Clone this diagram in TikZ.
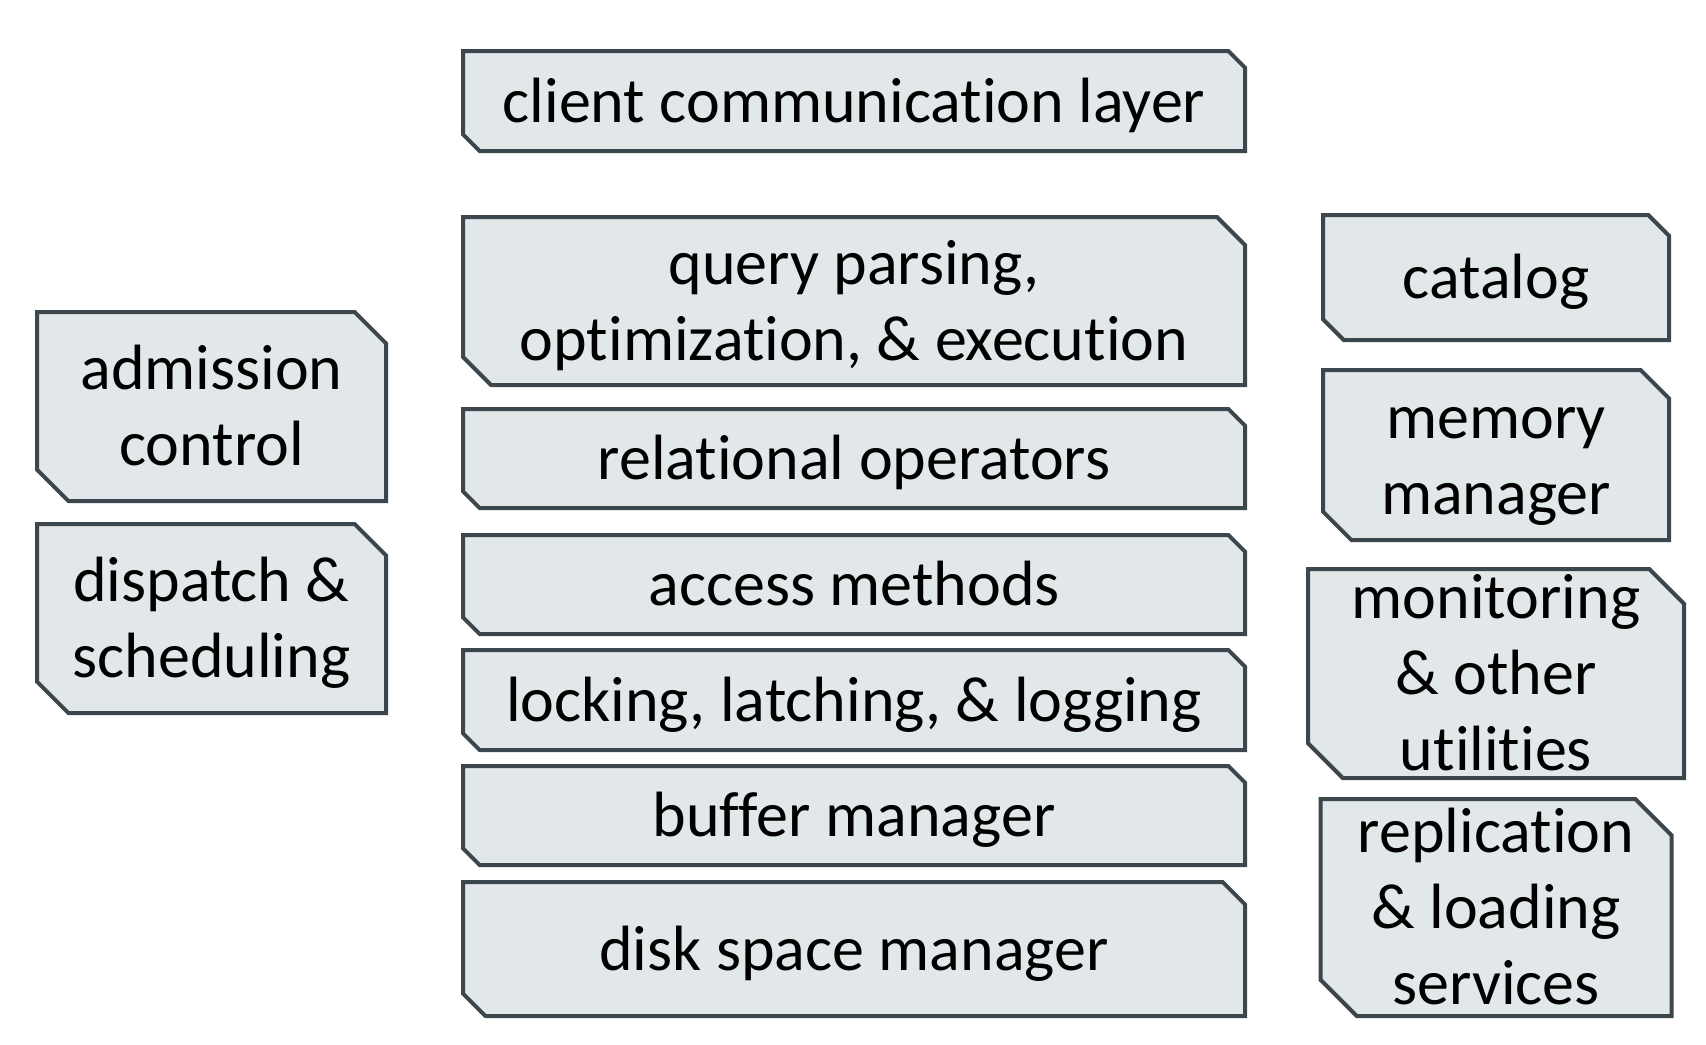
\documentclass[tikz,border=0pt]{standalone}
\usepackage{fontspec}
\setmainfont{Carlito}[Ligatures=NoCommon]
\usetikzlibrary{positioning,backgrounds}
\definecolor{boxfill}{HTML}{E2E7EA}
\definecolor{boxline}{HTML}{3C464D}
% centred lines, 38pt apart, middle of the block on the baseline
\newcommand\lns[1]{\setbox0\vbox{\def\\{\cr}\halign{\hfil\vrule height29.5pt depth8.5pt width0pt##\hfil\cr#1\crcr}}%
  \lower\dimexpr(\ht0-\dp0)/2\relax\box0}
\tikzset{blk/.style={rectangle,inner sep=0pt,outer sep=0pt,text height=0pt,text depth=0pt,font=\fontsize{32}{38}\selectfont},
  wide/.style={minimum width=391pt},outl/.style={draw=boxline,line width=2pt,fill=boxfill}}
\begin{document}
\begin{tikzpicture}[x=0.5pt,y=-0.5pt,node distance=8pt]
\useasboundingbox (0,0) rectangle (1706,1044);
% middle stack
\node[blk,wide,minimum height=50pt] (client) at (854,101) {\lns{client communication layer}};
\node[blk,wide,minimum height=84pt,below=33pt of client] (query) {\lns{query parsing,\\optimization, \& execution}};
\node[blk,wide,minimum height=49.5pt,below=12pt of query] (relop) {\lns{relational operators}};
\node[blk,wide,minimum height=49.5pt,below=13.5pt of relop] (access) {\lns{access methods}};
\node[blk,wide,minimum height=50pt,below=of access] (lock) {\lns{locking, latching, \& logging}};
\node[blk,wide,minimum height=49.5pt,below=of lock] (buffer) {\lns{buffer manager}};
\node[blk,wide,minimum height=67pt,below=8.5pt of buffer] (disk) {\lns{disk space manager}};
% left side
\node[blk,minimum width=174.5pt,minimum height=94.5pt] (admit) at (211.5,406.5) {\lns{admission\\control}};
\node[blk,minimum width=174.5pt,minimum height=94.5pt,below=11.5pt of admit] (dispatch) {\lns{dispatch \&\\scheduling}};
% right side
\node[blk,minimum width=173pt,minimum height=62.5pt] (catalog) at (1496,277.5) {\lns{catalog}};
\node[blk,minimum width=173pt,minimum height=85pt,below=15pt of catalog] (memory) {\lns{memory\\manager}};
\node[blk,minimum width=188pt,minimum height=104.5pt,below=14.5pt of memory] (monitor) {\lns{monitoring\\\& other\\utilities}};
\node[blk,minimum width=175.5pt,minimum height=108.5pt,below=10.5pt of monitor] (replic) {\lns{replication\\\& loading\\services}};
% snipped outlines behind the text
\begin{scope}[on background layer]
\foreach \n/\c in {client/8.3pt,query/14pt,relop/8.3pt,access/8.3pt,lock/8.3pt,buffer/8.3pt,disk/11.2pt,
  admit/15.7pt,dispatch/15.7pt,catalog/10.4pt,memory/14.2pt,monitor/17.4pt,replic/18.1pt}
  \draw[outl] (\n.north west) -- ([xshift=-\c]\n.north east) -- ([yshift=-\c]\n.north east)
    -- (\n.south east) -- ([xshift=\c]\n.south west) -- ([yshift=\c]\n.south west) -- cycle;
\end{scope}
\end{tikzpicture}
\end{document}
